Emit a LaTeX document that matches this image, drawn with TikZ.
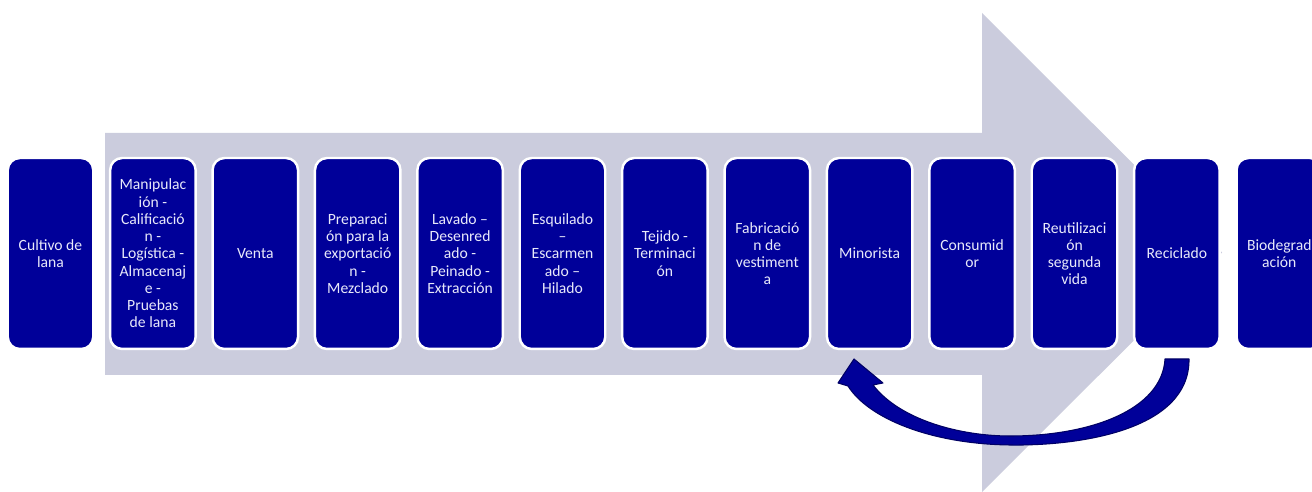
\documentclass[tikz,border=0pt]{standalone}
\usepackage{fontspec}
\setmainfont{Carlito}
\usepackage{tikz}
\usetikzlibrary{positioning}
\definecolor{navy}{RGB}{0,0,153}
\definecolor{navydark}{RGB}{0,0,100}
\definecolor{lilac}{RGB}{203,204,221}
\definecolor{paletext}{RGB}{232,233,250}
\tikzset{
  etapa/.style={draw=white,line width=1.4pt,fill=navy,rounded corners=0.24cm,
                minimum width=1.71cm,minimum height=3.82cm,inner sep=1pt,
                align=center,text=paletext,font=\fontsize{8.9}{9.8}\selectfont},
  retorno/.style={fill=navy,draw=navydark,line width=0.6pt,line join=round}
}

\begin{document}
\begin{tikzpicture}[x=0.02cm,y=-0.02cm]
  \useasboundingbox (0,0) rectangle (1312,492);
  % flecha de fondo
  \fill[lilac] (105,133) -- (982,133) -- (982,13) -- (1222,252.5)
    -- (982,492) -- (982,375) -- (105,375) -- cycle;

  % etapas de la cadena
  \node[etapa] (cult)  at (50.5,253.5)  {Cultivo de\\lana};
  \node[etapa] (manip) at (152.9,253.5) {Manipulac\\ión -\\Calificació\\n -\\Logística -\\Almacenaj\\e -\\Pruebas\\de lana};
  \node[etapa] (venta) at (255.3,253.5) {Venta};
  \node[etapa] (prep)  at (357.7,253.5) {Preparaci\\ón para la\\exportació\\n -\\Mezclado};
  \node[etapa] (lav)   at (460.1,253.5) {Lavado –\\Desenred\\ado -\\Peinado -\\Extracción};
  \node[etapa] (esq)   at (562.5,253.5) {Esquilado\\–\\Escarmen\\ado –\\Hilado};
  \node[etapa] (tej)   at (664.9,253.5) {Tejido -\\Terminaci\\ón};
  \node[etapa] (fab)   at (767.3,253.5) {Fabricació\\n de\\vestiment\\a};
  \node[etapa] (mino)  at (869.7,253.5) {Minorista};
  \node[etapa] (cons)  at (972.1,253.5) {Consumid\\or};
  \node[etapa] (reut)  at (1074.5,253.5) {Reutilizaci\\ón\\segunda\\vida};
  \node[etapa] (recic) at (1176.9,253.5) {Reciclado};
  \node[etapa] (biod)  at (1279.3,253.5) {Biodegrad\\ación};

  % flecha curva: reciclado vuelve a minorista
  \coordinate (colaA) at (1165,359);
  \coordinate (colaB) at (1189,359);
  \coordinate (punta) at (854,359);
  \filldraw[retorno] (colaA) -- (colaB)
    .. controls (1190,430) and (1080,446) .. (1010,445)
    .. controls (930,444) and (868,418) .. (848,386)
    -- (838,383) -- (punta) -- (883,383) -- (873,385)
    .. controls (900,420) and (960,436) .. (1010,436)
    .. controls (1090,436) and (1162,410) .. (colaA) -- cycle;
\end{tikzpicture}
\end{document}
